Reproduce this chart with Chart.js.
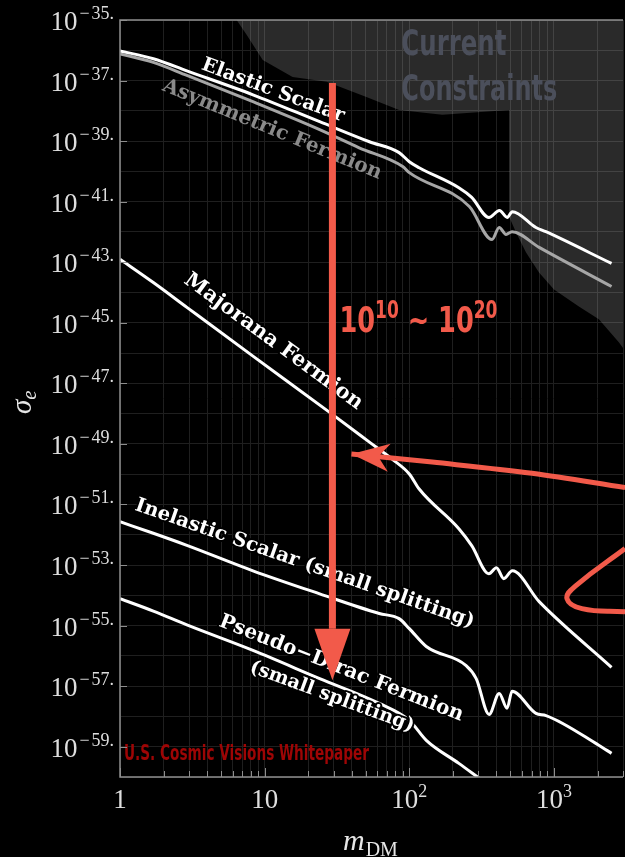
<!DOCTYPE html>
<html>
<head>
<meta charset="utf-8">
<script src="https://cdn.jsdelivr.net/npm/chart.js@4.4.1/dist/chart.umd.min.js"></script>
<style>
  html, body { margin: 0; padding: 0; background: #000; }
  #wrap { width: 625px; height: 857px; position: relative; }
</style>
</head>
<body>
<div id="wrap"><canvas id="c" width="625" height="857"></canvas></div>
<script>
// Dark-matter mass m_DM (GeV) and electron cross section sigma_e (cm^2) per model
const elasticScalarMass  = [1, 1.7, 2.9, 8.3, 24, 53, 85, 100, 117, 220, 270, 355, 420, 475, 515, 750, 880, 2500];
const elasticScalarSigma = [9.55e-37, 5.25e-37, 2.09e-37, 3.39e-38, 4.37e-39, 9.55e-40, 4.17e-40, 2.09e-40, 1.32e-40, 2.88e-41, 1.38e-41, 3.02e-42, 5.13e-42, 3.02e-42, 4.68e-42, 1.41e-42, 1.02e-42, 9.12e-44];

const asymFermionMass  = [1, 1.7, 2.9, 8.3, 24, 45, 90, 100, 260, 373, 418, 466, 513, 790, 2500];
const asymFermionSigma = [7.59e-37, 3.98e-37, 1.48e-37, 2.0e-38, 2.4e-39, 6.03e-40, 1.45e-40, 9.12e-41, 6.92e-42, 5.62e-43, 1.41e-42, 8.32e-43, 1.02e-42, 3.09e-43, 1.58e-44];

const majoranaMass  = [1, 1.7, 2.9, 8.3, 28, 53, 76, 100, 117, 220, 270, 355, 400, 450, 515, 790, 2500];
const majoranaSigma = [1.26e-43, 2.14e-44, 3.24e-45, 7.94e-47, 1.12e-48, 1.15e-49, 3.16e-50, 1.02e-50, 3.24e-51, 1.58e-52, 4.37e-53, 5.13e-54, 8.13e-54, 3.55e-54, 6.46e-54, 6.17e-55, 4.17e-57];

const inelasticMass  = [1, 1.7, 2.9, 8.3, 24, 62, 85, 100, 131, 247, 290, 356, 418, 474, 513, 751, 881, 2040, 2500];
const inelasticSigma = [2.69e-52, 1.12e-52, 4.47e-53, 6.46e-54, 1.12e-54, 2.51e-55, 1.70e-55, 7.94e-56, 2.04e-56, 4.79e-57, 1.78e-57, 1.17e-58, 5.75e-58, 1.86e-58, 6.76e-58, 1.26e-58, 1.07e-58, 1.12e-59, 6.03e-60];

const pseudoDiracMass  = [1, 1.7, 2.9, 8.3, 24, 62, 100, 131, 220, 304];
const pseudoDiracSigma = [7.76e-55, 3.02e-55, 1.05e-55, 1.51e-56, 1.78e-57, 2.69e-58, 7.41e-59, 1.62e-59, 2.82e-60, 9.12e-61];

// Lower edge of the excluded region ("Current Constraints")
const constraintMass  = [6.4, 7.5, 9.7, 15.6, 26.8, 50.5, 85, 169, 489, 489, 547, 641, 788, 1000, 1486, 2043, 2806, 3040];
const constraintSigma = [1e-35, 3.24e-36, 4.79e-37, 1.32e-37, 9.12e-38, 2.88e-38, 1.07e-38, 7.41e-39, 1.07e-38, 3.24e-42, 9.55e-43, 2.09e-43, 4.57e-44, 1.26e-44, 3.47e-45, 1.32e-45, 2.29e-46, 1.35e-46];

// Red annotations: vertical range arrow and the hand-drawn pointer
const arrowMass = [29.4, 29.4];
const arrowSigma = [8.3e-38, 7.94e-56];   // shaft top, head base
const arrowTipSigma = 1.58e-57;
const pointerMass  = [39.8, 144, 705, 3100];
const pointerSigma = [4.68e-50, 2.51e-50, 1.07e-50, 3.6e-51];
const loopMass  = [3100, 1419, 1230, 1560, 3100];
const loopSigma = [3.5e-53, 2.09e-54, 7.76e-55, 3.63e-55, 2.88e-55];

// Tick labels
const yLabelExponents = [-35, -37, -39, -41, -43, -45, -47, -49, -51, -53, -55, -57, -59];
const xLabelValues = [1, 10, 100, 1000];
const xLabelText = [['1', ''], ['10', ''], ['10', '2'], ['10', '3']];

const curveLabels = [
  { text: 'Elastic Scalar', mass: 11.4, sigma: 4.65e-38, angle: 20.4, len: 151, color: '#ffffff', halo: true },
  { text: 'Asymmetric Fermion', mass: 11.26, sigma: 2.38e-39, angle: 22.3, len: 235, color: '#8a8a8a', halo: false },
  { text: 'Majorana Fermion', mass: 11.5, sigma: 2.37e-46, angle: 36.2, len: 216, color: '#ffffff', halo: true },
  { text: 'Inelastic Scalar (small splitting)', mass: 18.9, sigma: 1.10e-53, angle: 19.2, len: 358, color: '#ffffff', halo: true },
  { text: 'Pseudo\u2212Dirac Fermion', mass: 33.8, sigma: 3.83e-57, angle: 21.4, len: 261, color: '#ffffff', halo: true },
  { text: '(small splitting)', mass: 29.2, sigma: 4.41e-58, angle: 20.2, len: 174, color: '#ffffff', halo: true }
];

const RED = '#f25a4a';
const NARROW = '"Liberation Sans Narrow", "DejaVu Sans Condensed", "DejaVu Sans", sans-serif';
const SERIF = '"Liberation Serif", "DejaVu Serif", serif';
const LABEL_SERIF = '"DejaVu Serif", "Liberation Serif", serif';

const pts = (xs, ys) => xs.map((v, i) => ({ x: v, y: ys[i] }));

const massGrid = [];
for (let e = 0; e <= 3; e++) for (let m = 1; m <= 9; m++) { const v = m * Math.pow(10, e); if (v <= 3000) massGrid.push(v); }
const sigmaGrid = [];
for (let e = -60; e <= -35; e++) sigmaGrid.push(Math.pow(10, e));

function fitFont(ctx, text, weight, family, width) {
  ctx.font = `${weight} 20px ${family}`;
  const s = 20 * width / ctx.measureText(text).width;
  return `${weight} ${s.toFixed(2)}px ${family}`;
}

// condensed sans text: size sets the glyph height, width is reached by squeezing horizontally
function squeezed(ctx, text, x, y, size, width) {
  ctx.font = `bold ${size}px ${NARROW}`;
  const w = ctx.measureText(text).width;
  ctx.save();
  ctx.translate(x, y);
  ctx.scale(width / w, 1);
  ctx.textAlign = 'left'; ctx.textBaseline = 'alphabetic';
  ctx.fillText(text, 0, 0);
  ctx.restore();
}

function drawAlong(ctx, lab, x, y) {
  ctx.save();
  ctx.font = fitFont(ctx, lab.text, 'bold', LABEL_SERIF, lab.len);
  ctx.translate(x, y);
  ctx.rotate(lab.angle * Math.PI / 180);
  ctx.textAlign = 'center';
  ctx.textBaseline = 'middle';
  if (lab.halo) {
    ctx.lineWidth = 4; ctx.lineJoin = 'round'; ctx.strokeStyle = '#000';
    ctx.strokeText(lab.text, 0, 0);
  }
  ctx.fillStyle = lab.color;
  ctx.fillText(lab.text, 0, 0);
  ctx.restore();
}

function arrowHead(ctx, tipX, tipY, dx, dy, len, half, notch) {
  const n = Math.hypot(dx, dy); dx /= n; dy /= n;
  const px = -dy, py = dx;
  ctx.beginPath();
  ctx.moveTo(tipX, tipY);
  ctx.lineTo(tipX - dx * len + px * half, tipY - dy * len + py * half);
  ctx.lineTo(tipX - dx * (len - notch), tipY - dy * (len - notch));
  ctx.lineTo(tipX - dx * len - px * half, tipY - dy * len - py * half);
  ctx.closePath();
  ctx.fill();
}

const decor = {
  id: 'decor',
  // text labels go above the model curves but below the red annotations
  afterDatasetDraw(chart, args) {
    if (chart.data.datasets[args.index].label !== 'Elastic Scalar') return;
    const { ctx, scales: { x, y } } = chart;
    ctx.save();
    curveLabels.forEach(l => drawAlong(ctx, l, x.getPixelForValue(l.mass), y.getPixelForValue(l.sigma)));

    // "Current Constraints"
    ctx.fillStyle = '#4b4f5b';
    const cx = x.getPixelForValue(88.1);
    squeezed(ctx, 'Current', cx, y.getPixelForValue(7.03e-37), 35, 105);
    squeezed(ctx, 'Constraints', cx, y.getPixelForValue(2.31e-38), 35, 156);

    // credit line
    ctx.fillStyle = '#9e0505';
    squeezed(ctx, 'U.S. Cosmic Visions Whitepaper', x.getPixelForValue(1.066), y.getPixelForValue(3.56e-60), 21, 245);
    ctx.restore();
  },
  afterDatasetsDraw(chart) {
    const { ctx, chartArea: a, scales: { x, y } } = chart;
    ctx.save();

    // arrow heads
    ctx.fillStyle = RED;
    const ax = x.getPixelForValue(arrowMass[0]);
    const baseY = y.getPixelForValue(arrowSigma[1]);
    const tipY = y.getPixelForValue(arrowTipSigma);
    ctx.beginPath();
    ctx.moveTo(ax - 18, baseY); ctx.lineTo(ax + 18, baseY); ctx.lineTo(ax, tipY); ctx.closePath(); ctx.fill();
    const pm = chart.getDatasetMeta(1).data;
    arrowHead(ctx, pm[0].x, pm[0].y, pm[0].x - pm[1].x, pm[0].y - pm[1].y, 38, 14, 11);

    // range label 10^10 ~ 10^20, squeezed like a condensed face
    const parts = [['10', 0], ['10', 1], [' ~ ', 0], ['10', 0], ['20', 1]];
    const big = 36, small = 24;
    let total = 0;
    parts.forEach(p => { ctx.font = `bold ${p[1] ? small : big}px ${NARROW}`; total += ctx.measureText(p[0]).width; });
    const k = 158 / total;
    const tx = x.getPixelForValue(32.9);
    const ty = y.getPixelForValue(4.86e-46);
    ctx.save();
    ctx.translate(tx, ty);
    ctx.scale(k, 1);
    ctx.textAlign = 'left'; ctx.textBaseline = 'alphabetic';
    let off = 0;
    parts.forEach(p => {
      ctx.font = `bold ${p[1] ? small : big}px ${NARROW}`;
      ctx.fillText(p[0], off, p[1] ? -14 : 0);
      off += ctx.measureText(p[0]).width;
    });
    ctx.restore();

    // axes frame
    ctx.strokeStyle = '#8e8e8e';
    ctx.lineWidth = 1.5;
    ctx.beginPath();
    ctx.moveTo(a.right, a.top); ctx.lineTo(a.left, a.top); ctx.lineTo(a.left, a.bottom); ctx.lineTo(a.right, a.bottom);
    ctx.stroke();

    // inward tick marks
    ctx.lineWidth = 1;
    ctx.beginPath();
    yLabelExponents.forEach(e => {
      const py = Math.round(y.getPixelForValue(Math.pow(10, e))) + 0.5;
      ctx.moveTo(a.left, py); ctx.lineTo(a.left + 7, py);
    });
    massGrid.forEach(v => {
      const px = Math.round(x.getPixelForValue(v)) + 0.5;
      const major = xLabelValues.includes(v);
      ctx.moveTo(px, a.bottom); ctx.lineTo(px, a.bottom - (major ? 9 : 6));
    });
    ctx.stroke();

    // y tick labels 10^-n.
    ctx.fillStyle = '#dedede';
    ctx.textBaseline = 'alphabetic';
    ctx.textAlign = 'left';
    yLabelExponents.forEach(e => {
      const py = y.getPixelForValue(Math.pow(10, e));
      const digits = Math.abs(e) + '.';
      ctx.font = `18px ${SERIF}`;
      const wDigits = ctx.measureText(digits).width;
      const wMinus = 14;
      ctx.font = `27px ${SERIF}`;
      const wBase = ctx.measureText('10').width;
      const right = 114;
      const start = right - wDigits - wMinus - wBase;
      ctx.fillText('10', start, py + 10);
      ctx.font = `18px ${SERIF}`;
      ctx.textAlign = 'center';
      ctx.fillText('\u2212', start + wBase + wMinus / 2, py - 1);
      ctx.textAlign = 'left';
      ctx.fillText(digits, start + wBase + wMinus, py - 1);
    });

    // x tick labels
    xLabelValues.forEach((v, i) => {
      const [b, ex] = xLabelText[i];
      ctx.font = `27px ${SERIF}`;
      const wb = ctx.measureText(b).width;
      ctx.font = `18px ${SERIF}`;
      const we = ex ? ctx.measureText(ex).width : 0;
      const start = x.getPixelForValue(v) - (wb + we) / 2;
      ctx.font = `27px ${SERIF}`;
      ctx.fillText(b, start, 808);
      if (ex) { ctx.font = `18px ${SERIF}`; ctx.fillText(ex, start + wb, 797); }
    });

    // axis titles
    ctx.fillStyle = '#e6e6e6';
    ctx.font = `italic 30px ${SERIF}`;
    const mw = ctx.measureText('m').width;
    const mx = 343;
    ctx.fillText('m', mx, 850);
    ctx.font = `20px ${SERIF}`;
    ctx.fillText('DM', mx + mw + 1, 856);

    ctx.save();
    ctx.translate(31, 414);
    ctx.rotate(-Math.PI / 2);
    ctx.font = `italic 29px ${SERIF}`;
    ctx.fillText('\u03c3', 0, 0);
    const sw = ctx.measureText('\u03c3').width;
    ctx.font = `italic 21px ${SERIF}`;
    ctx.fillText('e', sw, 5);
    ctx.restore();

    ctx.restore();
  }
};

const curve = (label, xs, ys, color) => ({
  label, data: pts(xs, ys), borderColor: color, borderWidth: 3,
  pointRadius: 0, cubicInterpolationMode: 'monotone', fill: false, order: 1
});

new Chart(document.getElementById('c'), {
  type: 'line',
  data: {
    datasets: [
      { label: 'range arrow', data: pts(arrowMass, arrowSigma), borderColor: RED, borderWidth: 7, pointRadius: 0, tension: 0, fill: false, order: 0, borderCapStyle: 'butt' },
      { label: 'pointer', data: pts(pointerMass, pointerSigma), borderColor: RED, borderWidth: 5, pointRadius: 0, tension: 0.35, fill: false, order: 0, clip: 6 },
      { label: 'loop', data: pts(loopMass, loopSigma), borderColor: RED, borderWidth: 5, pointRadius: 0, tension: 0.45, fill: false, order: 0, clip: 6 },
      curve('Elastic Scalar', elasticScalarMass, elasticScalarSigma, '#ffffff'),
      curve('Asymmetric Fermion', asymFermionMass, asymFermionSigma, '#a6a6a6'),
      curve('Majorana Fermion', majoranaMass, majoranaSigma, '#ffffff'),
      curve('Inelastic Scalar', inelasticMass, inelasticSigma, '#ffffff'),
      curve('Pseudo-Dirac Fermion', pseudoDiracMass, pseudoDiracSigma, '#ffffff'),
      { label: 'Current Constraints', data: pts(constraintMass, constraintSigma), borderWidth: 0, borderColor: 'rgba(0,0,0,0)',
        backgroundColor: 'rgba(255,255,255,0.165)', fill: 'end', pointRadius: 0, tension: 0, order: 2 }
    ]
  },
  options: {
    responsive: false,
    animation: false,
    devicePixelRatio: 1,
    layout: { padding: { top: 20, right: 2, left: 0, bottom: 0 } },
    plugins: { legend: { display: false }, tooltip: { enabled: false }, title: { display: false } },
    scales: {
      x: {
        type: 'logarithmic', min: 1, max: 3000,
        afterBuildTicks: s => { s.ticks = massGrid.map(v => ({ value: v })); },
        afterFit: s => { s.height = 80; },
        ticks: { display: false },
        grid: { color: '#1f1f1f', lineWidth: 1, drawTicks: false },
        border: { display: false }
      },
      y: {
        type: 'logarithmic', min: 1e-60, max: 1e-35,
        afterBuildTicks: s => { s.ticks = sigmaGrid.map(v => ({ value: v })); },
        afterFit: s => { s.width = 120; },
        ticks: { display: false },
        grid: { color: '#1f1f1f', lineWidth: 1, drawTicks: false },
        border: { display: false }
      }
    }
  },
  plugins: [decor]
});
</script>
</body>
</html>
